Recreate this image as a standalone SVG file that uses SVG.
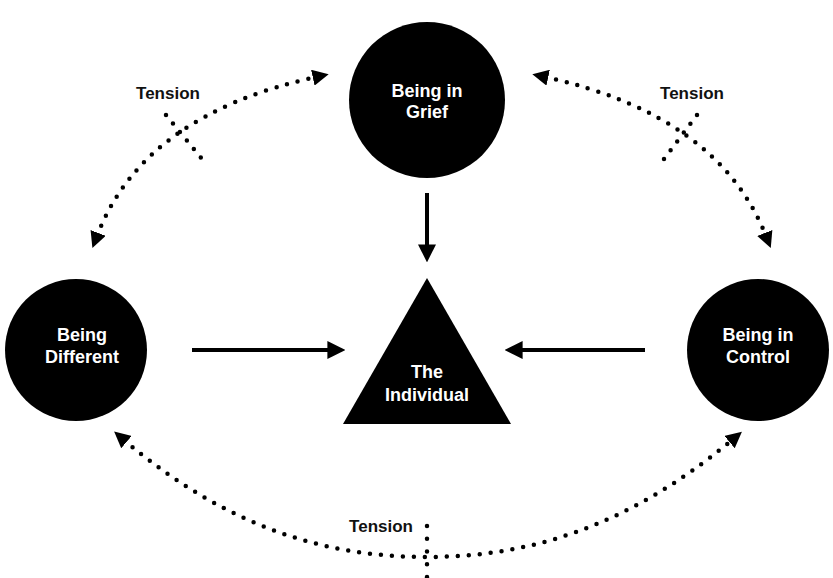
<svg xmlns="http://www.w3.org/2000/svg" width="833" height="578" viewBox="0 0 833 578">
<style>
.node{fill:#000}
.lbl{fill:#fff;font-family:"Liberation Sans",Arial,sans-serif;font-weight:bold;font-size:18px;text-anchor:middle}
.ten{fill:#111;font-family:"Liberation Sans",Arial,sans-serif;font-weight:bold;font-size:17px;text-anchor:middle}
.dot{fill:none;stroke:#000;stroke-width:4.5;stroke-linecap:round;stroke-dasharray:0 11}
.solid{fill:none;stroke:#000;stroke-width:4}
</style>
<defs>
<marker id="ah" viewBox="0 0 10 10" refX="2" refY="5" markerWidth="3.6" markerHeight="3.6" orient="auto-start-reverse" markerUnits="strokeWidth">
<path d="M0,0 L10,5 L0,10 Z" fill="#000"/>
</marker>
<marker id="sh" viewBox="0 0 10 10" refX="2" refY="5" markerWidth="4.5" markerHeight="4.5" orient="auto" markerUnits="strokeWidth">
<path d="M0,0 L10,5 L0,10 Z" fill="#000"/>
</marker>
</defs>
<g id="grief"><circle class="node" cx="427" cy="100" r="78"/><text class="lbl" x="427" y="97">Being in</text><text class="lbl" x="427" y="118">Grief</text></g>
<g id="different"><circle class="node" cx="76" cy="350" r="71"/><text class="lbl" x="82" y="341">Being</text><text class="lbl" x="82" y="363">Different</text></g>
<g id="control"><circle class="node" cx="758" cy="350" r="71"/><text class="lbl" x="758" y="341">Being in</text><text class="lbl" x="758" y="363">Control</text></g>
<g id="individual"><polygon class="node" points="427,278 511,424 343,424"/><text class="lbl" x="427" y="378">The</text><text class="lbl" x="427" y="401">Individual</text></g>
<g id="connectors">
<line class="solid" x1="427" y1="193" x2="427" y2="248" marker-end="url(#sh)"/>
<line class="solid" x1="192" y1="350" x2="331" y2="350" marker-end="url(#sh)"/>
<line class="solid" x1="645" y1="350" x2="519" y2="350" marker-end="url(#sh)"/>
<path class="dot" d="M97,236 Q143,115 316,77" marker-start="url(#ah)" marker-end="url(#ah)"/>
<path class="dot" d="M545,77 Q718,115 766,236" marker-start="url(#ah)" marker-end="url(#ah)"/>
<path class="dot" d="M124,440 C230,530 330,557 427,557 C524,557 624,530 732,440" marker-start="url(#ah)" marker-end="url(#ah)"/>
<path class="dot" d="M166,115 L206,164"/>
<path class="dot" d="M697,115 L658,167"/>
<path class="dot" d="M427,526 L427,578" style="stroke-dasharray:0 12.75"/>
</g>
<text class="ten" x="168" y="99">Tension</text>
<text class="ten" x="692" y="99">Tension</text>
<text class="ten" x="413" y="532" style="text-anchor:end">Tension</text>
</svg>
